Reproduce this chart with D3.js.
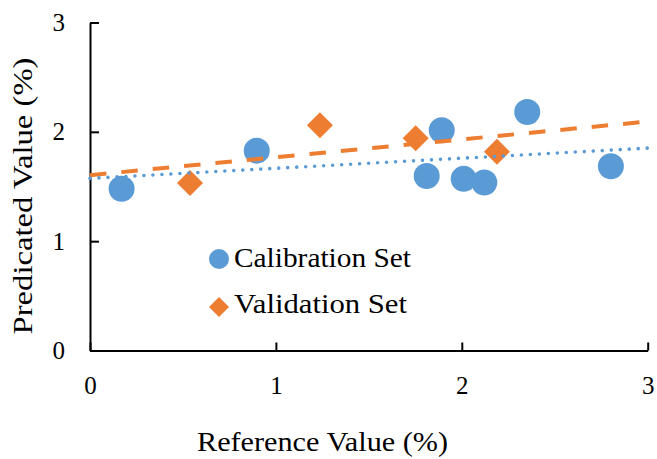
<!DOCTYPE html>
<html>
<head>
<meta charset="utf-8">
<script src="https://cdn.jsdelivr.net/npm/d3@7"></script>
</head>
<body style="margin:0;background:#fff">
<svg id="chart" width="657" height="459" style="display:block;font-family:'Liberation Serif',Tinos,'Times New Roman',serif"></svg>
<script>
// Calibration set: reference vs predicted (%)
const calibrationX = [0.17, 0.897, 1.892, 1.811, 2.01, 2.121, 2.352, 2.802];
const calibrationY = [1.48, 1.828, 2.014, 1.596, 1.57, 1.536, 2.181, 1.685];
// Validation set
const validationX = [0.538, 1.237, 1.752, 2.189];
const validationY = [1.532, 2.06, 1.941, 1.817];

const xTicks = [0, 1, 2, 3];
const yTicks = [0, 1, 2, 3];
const seriesNames = ["Calibration Set", "Validation Set"];
const xTitle = "Reference Value (%)";
const yTitle = "Predicated Value (%)";

const blue = "#5B9BD5";
const orange = "#ED7D31";
const FONT = "'Liberation Serif', Tinos, 'Times New Roman', serif";

const svg = d3.select("#chart");
const x = d3.scaleLinear().domain([0, 3]).range([90, 647.7]);
const y = d3.scaleLinear().domain([0, 3]).range([350.5, 22.5]);

// Least-squares linear fit
function fit(xs, ys) {
  const mx = d3.mean(xs), my = d3.mean(ys);
  let sxy = 0, sxx = 0;
  xs.forEach((v, i) => { sxy += (v - mx) * (ys[i] - my); sxx += (v - mx) ** 2; });
  const b = sxy / sxx;
  return { slope: b, intercept: my - b * mx };
}

// Axes
const yAxis = svg.append("g")
  .attr("transform", `translate(${x(0)},0)`)
  .call(d3.axisLeft(y).tickValues(yTicks).tickFormat(d3.format("d"))
    .tickSizeInner(-9).tickSizeOuter(0).tickPadding(25));
const xAxis = svg.append("g")
  .attr("transform", `translate(0,${y(0)})`)
  .call(d3.axisBottom(x).tickValues(xTicks).tickFormat(d3.format("d"))
    .tickSizeInner(-8).tickSizeOuter(0).tickPadding(26));
[xAxis, yAxis].forEach(g => {
  g.attr("font-family", null).attr("font-size", null);
  g.select(".domain").attr("stroke", "#000").attr("stroke-width", 2);
  g.selectAll(".tick line").attr("stroke", "#000").attr("stroke-width", 2);
  g.selectAll(".tick text")
    .attr("font-family", FONT).attr("font-size", 25).attr("fill", "#000")
    .style("font-family", FONT);
});

// Markers
const calib = calibrationX.map((v, i) => [v, calibrationY[i]]);
const valid = validationX.map((v, i) => [v, validationY[i]]);

svg.append("g").selectAll("circle").data(calib).join("circle")
  .attr("cx", d => x(d[0])).attr("cy", d => y(d[1])).attr("r", 13)
  .attr("fill", blue);

svg.append("g").selectAll("path").data(valid).join("path")
  .attr("d", d3.symbol().type(d3.symbolSquare).size(338)())
  .attr("transform", d => `translate(${x(d[0])},${y(d[1])}) rotate(45)`)
  .attr("fill", orange);

// Trendlines
const fc = fit(calibrationX, calibrationY);
const fv = fit(validationX, validationY);
const line = d3.line().x(d => x(d[0])).y(d => y(d[1]));

svg.append("path")
  .attr("d", line([[0, fv.intercept], [3, fv.intercept + 3 * fv.slope]]))
  .attr("fill", "none").attr("stroke", orange).attr("stroke-width", 4)
  .attr("stroke-dasharray", "16.5 15");

svg.append("path")
  .attr("d", line([[0, fc.intercept], [3, fc.intercept + 3 * fc.slope]]))
  .attr("fill", "none").attr("stroke", blue).attr("stroke-width", 3.6)
  .attr("stroke-linecap", "round").attr("stroke-dasharray", "0 9");

// Text helper
function label(g, str, size, len) {
  return g.append("text")
    .attr("font-family", FONT).style("font-family", FONT)
    .attr("font-size", size).attr("fill", "#000")
    .attr("textLength", len).attr("lengthAdjust", "spacingAndGlyphs")
    .text(str);
}

// Axis titles
label(svg, xTitle, 27, 251).attr("x", 322.5).attr("y", 451).attr("text-anchor", "middle");
label(svg, yTitle, 28, 277).attr("transform", "translate(32,196) rotate(-90)").attr("text-anchor", "middle");

// Legend
const legend = svg.append("g");
legend.append("circle").attr("cx", 219).attr("cy", 259).attr("r", 10).attr("fill", blue);
legend.append("path")
  .attr("d", d3.symbol().type(d3.symbolSquare).size(200)())
  .attr("transform", "translate(219,307) rotate(45)").attr("fill", orange);
label(legend, seriesNames[0], 27, 177).attr("x", 234).attr("y", 267);
label(legend, seriesNames[1], 27, 173).attr("x", 234).attr("y", 313);
</script>
</body>
</html>
